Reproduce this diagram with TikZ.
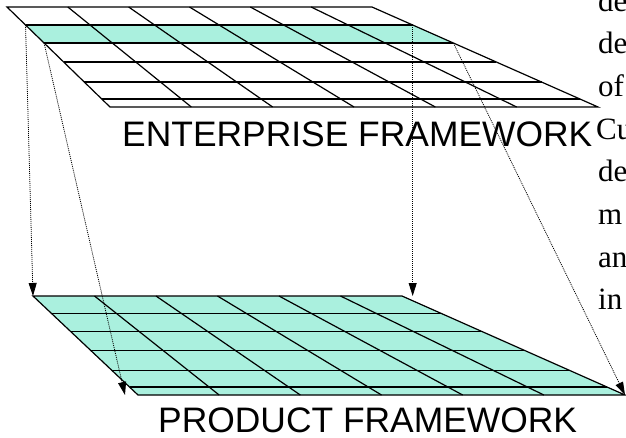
\documentclass[tikz,border=0pt]{standalone}
\usepackage{fontspec}
\setmainfont{Liberation Serif}
\newfontfamily\labelfont{Liberation Sans}
\usetikzlibrary{calc,arrows.meta}

\definecolor{bandgreen}{RGB}{170,240,222}

\begin{document}
\begin{tikzpicture}[x=1pt,y=-1pt,
	gridline/.style={line width=1.2pt},
	band/.style={fill=bandgreen},
	proj/.style={dash pattern=on 1pt off 1pt,line width=0.8pt,-{Triangle[length=13pt,width=8pt]}},
	title/.style={font=\labelfont\fontsize{35.4}{40}\selectfont,anchor=base west,inner sep=0pt},
	body/.style={font=\fontsize{31}{36}\selectfont,anchor=base west,inner sep=0pt}]
	\useasboundingbox (0,0) rectangle (626,437);
	\clip (0,0) rectangle (626,437);
	% corners of the two grids
	\coordinate (etl) at (7,7);    \coordinate (etr) at (372,7);
	\coordinate (ebr) at (598,107); \coordinate (ebl) at (110,107);
	\coordinate (ptl) at (33,296);  \coordinate (ptr) at (402,296);
	\coordinate (pbr) at (625,395); \coordinate (pbl) at (138,395);
	% shaded row of the upper grid
	\coordinate (btl) at ($(etl)!0.18!(ebl)$); \coordinate (btr) at ($(etr)!0.18!(ebr)$);
	\coordinate (bbl) at ($(etl)!0.36!(ebl)$); \coordinate (bbr) at ($(etr)!0.36!(ebr)$);
	\coordinate (pin) at (125,395);
	\fill[band] (btl)--(btr)--(bbr)--(bbl)--cycle;
	\fill[band] (ptl)--(ptr)--(pbr)--(pbl)--cycle;
	\foreach \g in {e,p}{
		\draw[gridline] (\g tl)--(\g tr)--(\g br)--(\g bl)--cycle;
		\foreach \f in {0.18,0.36,0.55,0.75,0.92}
			\draw[gridline] ($(\g tl)!\f!(\g bl)$)--($(\g tr)!\f!(\g br)$);
		\foreach \i in {1,...,5}
			\draw[gridline] ($(\g tl)!\i/6!(\g tr)$)--($(\g bl)!\i/6!(\g br)$);
	}
	% projections down to the product grid
	\draw[proj] (btl)--(ptl);
	\draw[proj] (bbl)--(pin);
	\draw[proj] (btr)--(btr |- ptl);
	\draw[proj] (bbr)--(pbr);
	\node[title] (ent) at (122,146) {ENTERPRISE FRAMEWORK};
	\node[title] (prod) at (158,432) {PRODUCT FRAMEWORK};
	% text running past the right border
	\node[body] (t1) at (598,11) {de};
	\node[body] (t2) at (598,53) {de};
	\node[body] (t3) at (598,96) {of};
	\node[body] (t4) at (596,139) {Cu};
	\node[body] (t5) at (598,181) {de};
	\node[body] (t6) at (598,224) {m};
	\node[body] (t7) at (598,267) {an};
	\node[body] (t8) at (598,309) {in};
\end{tikzpicture}
\end{document}
